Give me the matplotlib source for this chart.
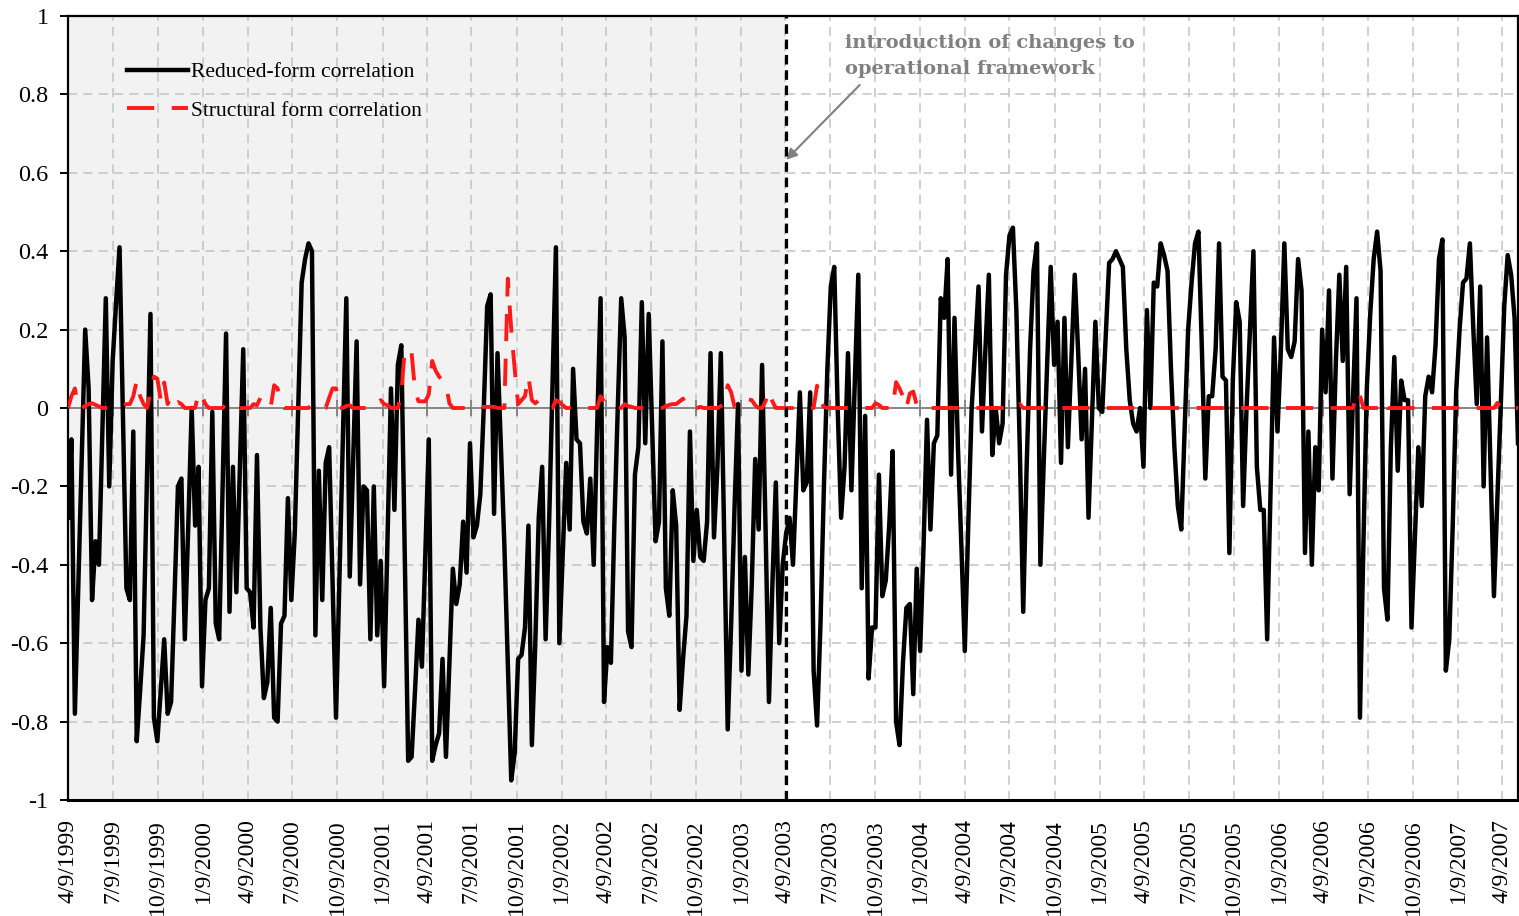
import matplotlib
matplotlib.use("Agg")
import matplotlib.pyplot as plt
from matplotlib.ticker import FuncFormatter
import numpy as np
import pandas as pd

# weekly observations, first one on 9 April 1999
start = "1999-04-09"

# reduced-form correlation, one value per week (rows of 10 weeks)
reduced = [
    -0.28, -0.08, -0.78, -0.45, -0.12, 0.20, 0.05, -0.49, -0.34, -0.40,
    -0.06, 0.28, -0.20, 0.12, 0.27, 0.41, -0.02, -0.46, -0.49, -0.06,
    -0.85, -0.72, -0.58, -0.17, 0.24, -0.79, -0.85, -0.72, -0.59, -0.78,
    -0.75, -0.48, -0.20, -0.18, -0.59, -0.30, 0.00, -0.30, -0.15, -0.71,
    -0.49, -0.46, -0.01, -0.55, -0.59, -0.20, 0.19, -0.52, -0.15, -0.47,
    -0.16, 0.15, -0.46, -0.47, -0.56, -0.12, -0.56, -0.74, -0.70, -0.51,
    -0.79, -0.80, -0.55, -0.53, -0.23, -0.49, -0.32, 0.00, 0.32, 0.38,
    0.42, 0.40, -0.58, -0.16, -0.49, -0.14, -0.10, -0.45, -0.79, -0.43,
    -0.08, 0.28, -0.43, -0.13, 0.17, -0.45, -0.20, -0.21, -0.59, -0.20,
    -0.58, -0.39, -0.71, -0.33, 0.05, -0.26, 0.11, 0.16, -0.37, -0.90,
    -0.89, -0.72, -0.54, -0.66, -0.37, -0.08, -0.90, -0.86, -0.83, -0.64,
    -0.89, -0.65, -0.41, -0.50, -0.45, -0.29, -0.42, -0.09, -0.33, -0.30,
    -0.22, 0.00, 0.26, 0.29, -0.27, 0.14, -0.10, -0.35, -0.65, -0.95,
    -0.88, -0.64, -0.63, -0.56, -0.30, -0.86, -0.60, -0.28, -0.15, -0.59,
    -0.30, 0.05, 0.41, -0.60, -0.37, -0.14, -0.31, 0.10, -0.08, -0.09,
    -0.29, -0.32, -0.18, -0.40, -0.05, 0.28, -0.75, -0.61, -0.65, -0.30,
    0.00, 0.28, 0.18, -0.57, -0.61, -0.17, -0.10, 0.27, -0.09, 0.24,
    -0.05, -0.34, -0.29, 0.17, -0.46, -0.53, -0.21, -0.30, -0.77, -0.64,
    -0.53, -0.06, -0.39, -0.26, -0.38, -0.39, -0.29, 0.14, -0.33, -0.15,
    0.14, -0.34, -0.82, -0.55, -0.25, 0.01, -0.67, -0.38, -0.68, -0.45,
    -0.13, -0.31, 0.11, -0.30, -0.75, -0.45, -0.19, -0.60, -0.40, -0.32,
    -0.28, -0.40, -0.18, 0.04, -0.21, -0.19, 0.04, -0.67, -0.81, -0.55,
    -0.20, 0.10, 0.31, 0.36, 0.00, -0.28, -0.15, 0.14, -0.21, 0.07,
    0.34, -0.46, -0.02, -0.69, -0.56, -0.56, -0.17, -0.48, -0.44, -0.30,
    -0.11, -0.80, -0.86, -0.65, -0.51, -0.50, -0.73, -0.41, -0.62, -0.35,
    -0.03, -0.31, -0.09, -0.07, 0.28, 0.23, 0.38, -0.17, 0.23, -0.10,
    -0.35, -0.62, -0.30, 0.00, 0.15, 0.31, -0.06, 0.15, 0.34, -0.12,
    0.00, -0.09, -0.04, 0.34, 0.44, 0.46, 0.25, -0.10, -0.52, -0.15,
    0.15, 0.35, 0.42, -0.40, -0.13, 0.12, 0.36, 0.11, 0.22, -0.14,
    0.23, -0.10, 0.12, 0.34, 0.14, -0.08, 0.10, -0.28, -0.03, 0.22,
    0.00, -0.01, 0.18, 0.37, 0.38, 0.40, 0.38, 0.36, 0.15, 0.02,
    -0.04, -0.06, 0.00, -0.15, 0.25, 0.00, 0.32, 0.31, 0.42, 0.39,
    0.35, 0.10, -0.10, -0.25, -0.31, -0.05, 0.20, 0.32, 0.42, 0.45,
    0.15, -0.18, 0.03, 0.03, 0.15, 0.42, 0.08, 0.07, -0.37, 0.07,
    0.27, 0.22, -0.25, 0.00, 0.20, 0.40, -0.15, -0.26, -0.26, -0.59,
    -0.20, 0.18, -0.06, 0.15, 0.42, 0.15, 0.13, 0.17, 0.38, 0.30,
    -0.37, -0.06, -0.40, -0.10, -0.21, 0.20, 0.04, 0.30, -0.18, 0.12,
    0.34, 0.12, 0.36, -0.22, 0.03, 0.28, -0.79, -0.35, 0.05, 0.24,
    0.38, 0.45, 0.35, -0.46, -0.54, -0.10, 0.13, -0.16, 0.07, 0.02,
    0.02, -0.56, -0.33, -0.10, -0.25, 0.03, 0.08, 0.04, 0.16, 0.38,
    0.43, -0.67, -0.59, -0.30, 0.04, 0.20, 0.32, 0.33, 0.42, 0.20,
    0.01, 0.31, -0.20, 0.18, -0.15, -0.48, -0.23, 0.01, 0.26, 0.39,
    0.34, 0.23, -0.09,
]

# structural form correlation, same weeks
structural = [
    0, .03, .05, 0, 0, .005, .01, .012, .008, .004,
    0, 0, 0, 0, 0, 0, .005, .01, .01, .03,
    .07, .03, .01, 0, .04, .08, .075, .02, .065, .01,
    .03, .01, .015, .01, 0, 0, 0, 0, .04, .03,
    .01, 0, 0, 0, 0, 0, .01, .005, .01, .005,
    0, 0, 0, 0, .01, .007, .026, .012, .003, .003,
    .058, .05, .01, 0, 0, 0, 0, 0, 0, 0,
    0, .01, .003, 0, 0, 0, .026, .05, .05, 0,
    0, .005, .007, 0, 0, 0, 0, 0, 0, 0,
    .012, .02, .01, .007, 0, 0, 0, .035, .15, .14,
    .14, .045, .017, .017, .017, .035, .12, .095, .08, .07,
    .06, .012, 0, 0, 0, 0, 0, .003, .003, .003,
    .003, .003, .003, .003, .003, 0, 0, 0, .33, .2,
    .1, .01, .02, .03, .08, .02, .012, .02, .01, 0,
    0, 0, .02, .015, .007, 0, 0, .003, 0, 0,
    0, 0, 0, 0, 0, .03, .017, .015, .012, 0,
    0, 0, .01, .005, .003, 0, 0, 0, 0, 0,
    0, 0, 0, 0, .005, .008, .01, .01, .017, .024,
    0, 0, 0, 0, .003, 0, 0, 0, 0, 0,
    .005, .01, .058, .04, .003, .01, .017, .026, .022, .02,
    .007, 0, 0, .017, .044, .017, 0, 0, 0, 0,
    0, 0, 0, 0, 0, 0, 0, 0, .057, .013,
    .003, 0, 0, 0, 0, 0, 0, 0, 0, 0,
    0, 0, 0, 0, 0, .012, .008, 0, 0, 0,
    0, .066, .05, .03, 0, .037, .042, .008, 0, 0,
    0, 0, 0, 0, 0, 0, 0, 0, 0, 0,
    0, 0, 0, 0, 0, 0, 0, 0, 0, 0,
    0, 0, 0, 0, 0, 0, 0, .01, 0, 0,
    0, 0, 0, 0, 0, 0, 0, 0, 0, 0,
    0, 0, 0, 0, 0, 0, 0, 0, 0, 0,
    0, 0, 0, 0, 0, 0, 0, 0, 0, 0,
    0, 0, 0, 0, 0, 0, 0, 0, 0, 0,
    0, 0, 0, 0, 0, 0, 0, 0, 0, 0,
    0, 0, 0, 0, 0, 0, 0, 0, 0, 0,
    0, 0, 0, 0, 0, 0, 0, 0, 0, 0,
    0, 0, 0, 0, 0, 0, 0, 0, 0, 0,
    0, 0, 0, 0, 0, 0, 0, 0, 0, 0,
    0, 0, 0, 0, 0, .042, .032, 0, 0, 0,
    0, 0, 0, .017, 0, 0, 0, 0, 0, 0,
    0, 0, 0, 0, 0, 0, 0, 0, 0, 0,
    0, 0, 0, 0, 0, 0, 0, 0, 0, 0,
    0, 0, 0, 0, 0, 0, .013, 0, 0, 0,
    0, 0, 0,
]

series_names = ["Reduced-form correlation", "Structural form correlation"]
break_date = "2003-04-11"      # introduction of the new framework
shade_end = "2003-04-09"
first_tick = "1999-04-09"
n_ticks = 33                   # quarterly labels
ytick_vals = [-1, -0.8, -0.6, -0.4, -0.2, 0, 0.2, 0.4, 0.6, 0.8, 1]
note = "introduction of changes to\noperational framework"

dates = pd.date_range(start, periods=len(reduced), freq="7D")
qticks = [pd.Timestamp(first_tick) + pd.DateOffset(months=3 * i) for i in range(n_ticks)]

plt.rcParams["font.family"] = ["Liberation Serif", "DejaVu Serif"]

fig = plt.figure(figsize=(15.19, 9.16), dpi=100)
ax = fig.add_axes([68 / 1519, 1 - 800 / 916, 1450 / 1519, 784 / 916])

# grey shading of the pre-break sample
ax.axvspan(pd.Timestamp(start), pd.Timestamp(shade_end), color="#f2f2f2", lw=0, zorder=0)

ax.grid(True, color="#c4c4c4", lw=1.1, ls=(0, (6, 4)))
ax.set_axisbelow(True)

# horizontal category axis sits at zero
ax.axhline(0, color="#7f7f7f", lw=1.3, zorder=2)
ax.vlines(qticks, -0.02, 0.02, color="#7f7f7f", lw=1.3, zorder=2)

ax.plot(dates, reduced, color="black", lw=3.2, label=series_names[0], zorder=3)
ax.plot(dates, structural, color="#ff1a1a", lw=2.8, ls=(0, (7, 4.5)),
        label=series_names[1], zorder=4)

ax.axvline(pd.Timestamp(break_date), color="black", lw=2.3, ls=(0, (3, 1.8)), zorder=5)

ax.set_xlim(dates[0], dates[-1])
ax.set_ylim(-1, 1)
ax.set_yticks(ytick_vals)
ax.yaxis.set_major_formatter(FuncFormatter(
    lambda v, p: "0" if abs(v) < 1e-9 else f"{v:.1f}".rstrip("0").rstrip(".")))
ax.set_xticks(qticks)
ax.set_xticklabels([f"{d.month}/{d.day}/{d.year}" for d in qticks], rotation=90)

ax.tick_params(axis="y", direction="out", length=6, width=1.4, labelsize=17.5, pad=8)
ax.tick_params(axis="x", length=0, labelsize=17, pad=14)

for s in ax.spines.values():
    s.set_color("black")
    s.set_linewidth(1.6)
ax.spines["bottom"].set_linewidth(2.2)

ax.legend(loc="upper left", bbox_to_anchor=(0.035, 0.952), frameon=False,
          fontsize=15.5, handlelength=2.8, handletextpad=0.15,
          labelspacing=0.85, borderaxespad=0)

ax.annotate("", xy=(pd.Timestamp(break_date), 0.633), xycoords="data",
            xytext=(0.546, 0.912), textcoords="axes fraction",
            arrowprops=dict(arrowstyle="-|>", color="#808080", lw=1.5,
                            mutation_scale=16, shrinkA=0, shrinkB=0))
ax.text(0.536, 0.977, note, transform=ax.transAxes, ha="left", va="top",
        fontsize=14, fontweight="bold", color="#808080", linespacing=1.6,
        family=["DejaVu Serif"])

fig.savefig("out.png", dpi=100)
